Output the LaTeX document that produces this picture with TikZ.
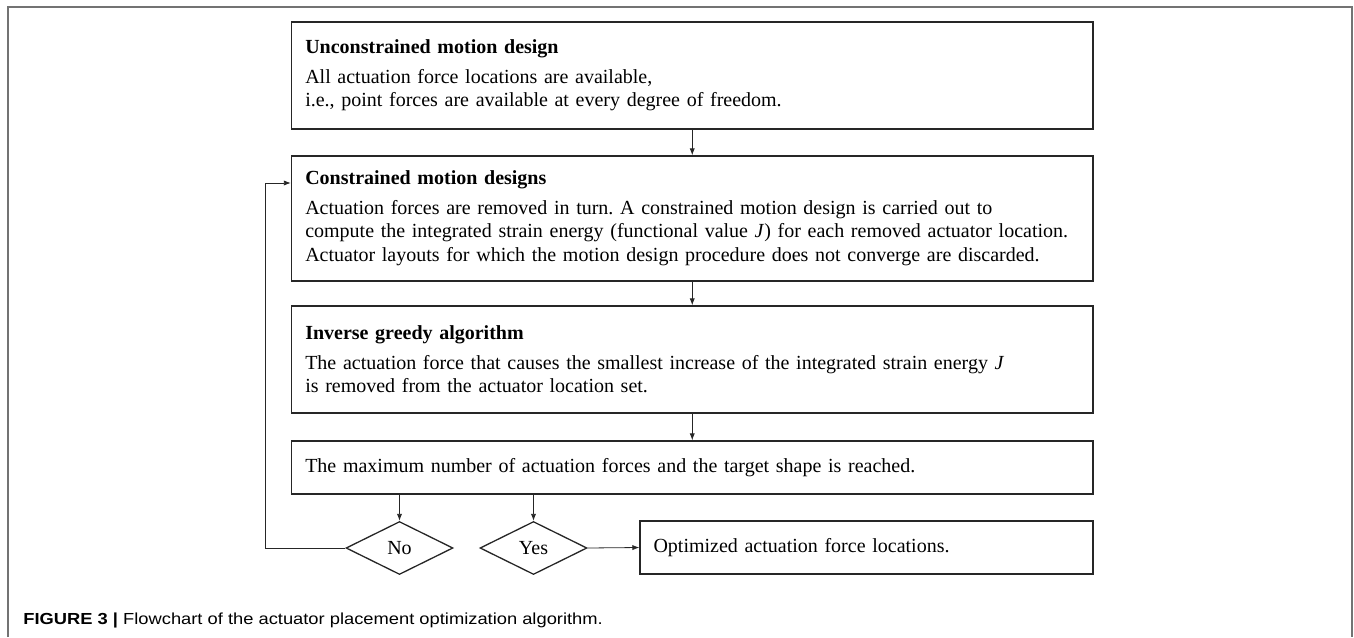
\documentclass[tikz,border=0pt]{standalone}
\usepackage{fontspec}
\setmainfont{Liberation Serif}
\newfontfamily\capfont{Liberation Sans}
\usetikzlibrary{shapes.geometric,arrows.meta}
\frenchspacing

\tikzset{
  stepbox/.style={draw=black!85, line width=0.65pt, align=left, text width=387pt,
    inner xsep=6.5pt, inner ysep=0pt, minimum width=400.75pt,
    font=\fontsize{10}{11.9}\selectfont},
  decision/.style={draw=black!85, line width=0.65pt, diamond, aspect=2, inner sep=0pt,
    minimum width=53.5pt, minimum height=26.5pt, font=\fontsize{10}{11.9}\selectfont},
  flow/.style={-{Latex[length=3.5pt,width=2.6pt]}, line width=0.4pt, black!85}
}

\begin{document}
\begin{tikzpicture}[x=0.5pt,y=-0.5pt]
\useasboundingbox (0,0) rectangle (1354,637);

% frame
\draw[black!55, line width=0.7pt] (8,637) -- (8,7) -- (1352,7) -- (1352,637);

\node[stepbox, minimum height=53.5pt](unc) at (692.25,75.5)
  {\textbf{Unconstrained motion design}\\[2.8pt]
   All actuation force locations are available,\\
   i.e., point forces are available at every degree of freedom.};
\node[stepbox, minimum height=62.5pt](con) at (692.25,218.5)
  {\textbf{Constrained motion designs}\\[2.8pt]
   Actuation forces are removed in turn. A constrained motion design is carried out to\\
   compute the integrated strain energy (functional value \textit{J}) for each removed actuator location.\\
   Actuator layouts for which the motion design procedure does not converge are discarded.};
\node[stepbox, minimum height=53.5pt](inv) at (692.25,359.5)
  {\textbf{Inverse greedy algorithm}\\[2.8pt]
   The actuation force that causes the smallest increase of the integrated strain energy \textit{J}\\
   is removed from the actuator location set.};
\node[stepbox, minimum height=26.5pt](reach) at (692.25,467.5)
  {The maximum number of actuation forces and the target shape is reached.};

\node[decision](no) at (399.5,548) {No};
\node[decision](yes) at (533.5,548) {Yes};
\node[stepbox, text width=213pt, minimum width=226.5pt, minimum height=26.5pt](opt) at (866.5,547.5)
  {Optimized actuation force locations.};

\coordinate(back) at (265,183);

\draw[flow] (unc) -- (con);
\draw[flow] (con) -- (inv);
\draw[flow] (inv) -- (reach);
\draw[flow] (reach.south -| no.north) -- (no.north);
\draw[flow] (reach.south -| yes.north) -- (yes.north);
\draw[flow] (yes.east) -- (opt.west);
\draw[flow] (no.west) -| (back) -- (back -| con.west);

\node[anchor=west, inner sep=0pt, font=\capfont\fontsize{8}{10}\selectfont](cap) at (23,620)
  {\scalebox{1.145}[1]{\textbf{FIGURE 3 |} Flowchart of the actuator placement optimization algorithm.}};

\end{tikzpicture}
\end{document}
